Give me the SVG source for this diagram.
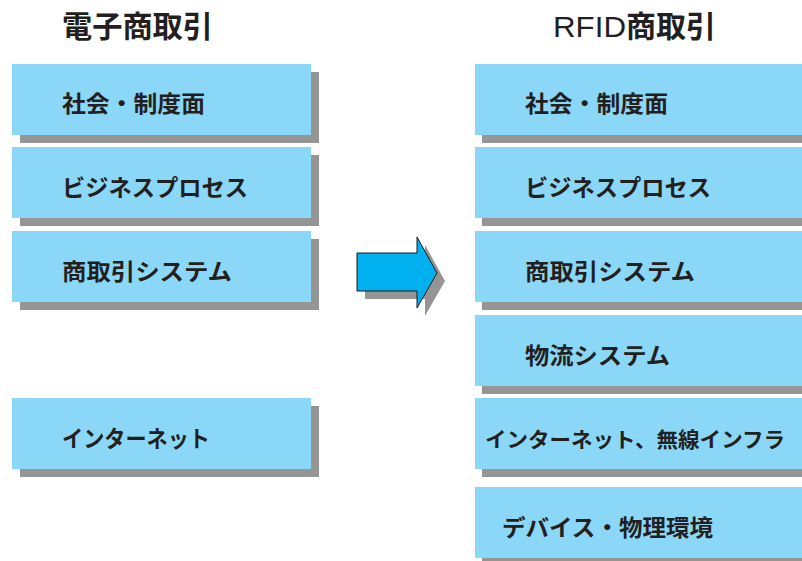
<svg xmlns="http://www.w3.org/2000/svg" width="802" height="561" viewBox="0 0 802 561">
<style>
.box{fill:#8bd7f7}
.sh{fill:#959595}
.t{font-family:"Noto Sans CJK JP","Noto Sans",sans-serif;font-weight:bold;font-size:23px;fill:#231f20}
.h{font-family:"Noto Sans CJK JP","Noto Sans",sans-serif;font-weight:bold;font-size:30px;fill:#231f20}
.hr{font-family:"Liberation Sans","Noto Sans",sans-serif;font-weight:normal;font-size:30px;fill:#231f20}
</style>
<rect width="802" height="561" fill="#ffffff"/>
<g id="title-left"><text class="h" x="62" y="37" textLength="151" lengthAdjust="spacingAndGlyphs">電子商取引</text></g>
<g id="title-right"><text x="553" y="37"><tspan class="hr" textLength="73" lengthAdjust="spacingAndGlyphs">RFID</tspan><tspan class="h">商取引</tspan></text></g>

<g id="l1"><rect class="sh" x="20" y="72" width="299" height="71"/><rect class="box" x="12" y="64" width="299" height="71"/><text class="t" x="62" y="112" textLength="143" lengthAdjust="spacingAndGlyphs">社会・制度面</text></g>
<g id="l2"><rect class="sh" x="20" y="155" width="299" height="71"/><rect class="box" x="12" y="147" width="299" height="71"/><text class="t" x="62" y="196" textLength="186" lengthAdjust="spacingAndGlyphs">ビジネスプロセス</text></g>
<g id="l3"><rect class="sh" x="20" y="239" width="299" height="71"/><rect class="box" x="12" y="231" width="299" height="71"/><text class="t" x="62" y="280" textLength="170" lengthAdjust="spacingAndGlyphs">商取引システム</text></g>
<g id="l4"><rect class="sh" x="20" y="406" width="299" height="71"/><rect class="box" x="12" y="398" width="299" height="71"/><text class="t" x="62" y="447" textLength="148" lengthAdjust="spacingAndGlyphs">インターネット</text></g>

<g id="r1"><rect class="sh" x="482" y="72" width="320" height="71"/><rect class="box" x="475" y="64" width="327" height="71"/><text class="t" x="525" y="112" textLength="143" lengthAdjust="spacingAndGlyphs">社会・制度面</text></g>
<g id="r2"><rect class="sh" x="482" y="155" width="320" height="71"/><rect class="box" x="475" y="147" width="327" height="71"/><text class="t" x="525" y="196" textLength="186" lengthAdjust="spacingAndGlyphs">ビジネスプロセス</text></g>
<g id="r3"><rect class="sh" x="482" y="239" width="320" height="71"/><rect class="box" x="475" y="231" width="327" height="71"/><text class="t" x="525" y="280" textLength="170" lengthAdjust="spacingAndGlyphs">商取引システム</text></g>
<g id="r4"><rect class="sh" x="482" y="323" width="320" height="71"/><rect class="box" x="475" y="315" width="327" height="71"/><text class="t" x="525" y="364" textLength="145" lengthAdjust="spacingAndGlyphs">物流システム</text></g>
<g id="r5"><rect class="sh" x="482" y="406" width="320" height="71"/><rect class="box" x="475" y="398" width="327" height="71"/><text class="t" x="485" y="447" style="font-size:21px" textLength="300" lengthAdjust="spacingAndGlyphs">インターネット、無線インフラ</text></g>
<g id="r6"><rect class="sh" x="482" y="495" width="320" height="71"/><rect class="box" x="475" y="487" width="327" height="71"/><text class="t" x="502" y="536" textLength="211" lengthAdjust="spacingAndGlyphs">デバイス・物理環境</text></g>

<g id="connectors">
<polygon points="365,261 425,261 425,245 445,281 425,316 425,299 365,299" fill="#959595"/>
<polygon points="357,253 417,253 417,237 437,273 417,308 417,291 357,291" fill="#00b0ef" stroke="#1a1a1a" stroke-width="1"/>
</g>
</svg>
